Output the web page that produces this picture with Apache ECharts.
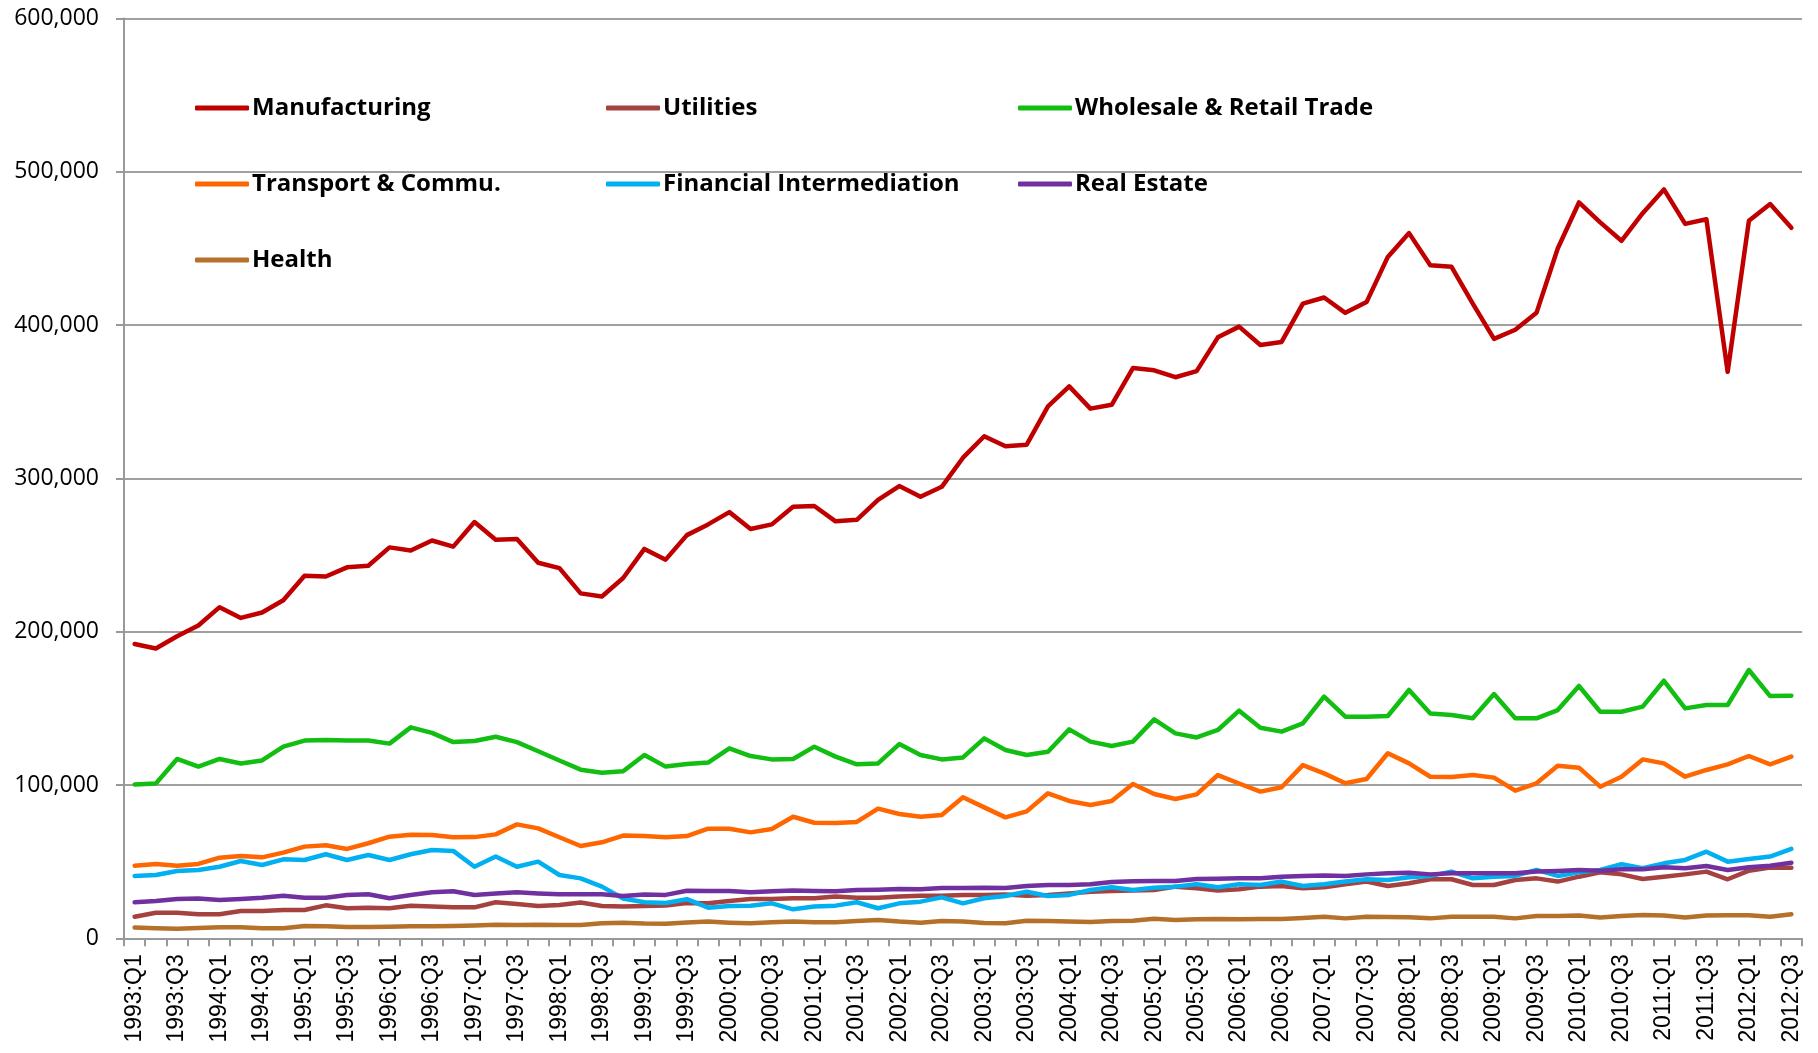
<!DOCTYPE html>
<html>
<head>
<meta charset="utf-8">
<script src="https://cdn.jsdelivr.net/npm/echarts@6/dist/echarts.min.js"></script>
<style>
html,body{margin:0;padding:0;background:#fff;}
#chart{width:1818px;height:1053px;}
</style>
</head>
<body>
<div id="chart"></div>
<script>
// Categories 1993:Q1 .. 2012:Q3
var categories = [];
for (var y = 1993; y <= 2012; y++) {
  for (var q = 1; q <= 4; q++) {
    if (y === 2012 && q > 3) break;
    categories.push(y + ':Q' + q);
  }
}

var seriesNames = ['Manufacturing', 'Utilities', 'Wholesale & Retail Trade',
  'Transport & Commu.', 'Financial Intermediation', 'Real Estate', 'Health'];

var manufacturing = [192000,189000,197000,204000,216000,209000,212500,220500,236500,236000,
  242000,243000,255000,253000,259500,255500,271500,260000,260500,245000,
  241500,225000,223000,235000,254000,247000,263000,270000,278000,267000,
  270000,281500,282000,272000,273000,286000,295000,288000,294500,313500,
  327500,321000,322000,347000,360000,345500,348000,372000,370500,366000,
  370000,392000,399000,387000,389000,414000,418000,408000,415000,444500,
  460000,439000,438000,414000,391000,397000,408000,450000,480000,467000,
  455000,473000,488500,466000,469000,369500,468000,479000,463500];

var utilities = [14100,16700,16700,15700,15700,17800,17800,18500,18500,21500,
  19600,20000,19600,21300,20700,20200,20200,23500,22400,21100,
  21700,23300,21100,20700,21100,21400,23000,22800,24300,25700,
  25700,26100,26100,27200,26500,26500,27200,27800,27800,28300,
  28300,28500,27800,28300,29300,30400,30900,31100,31500,33700,
  32600,31100,32000,33700,34100,32600,33300,35200,37000,34100,
  35900,38500,38500,34800,34800,38000,39100,37000,40200,43000,
  41700,38700,40200,41700,43500,38500,44100,46100,46100];

var wholesale = [100400,101000,117000,112000,117000,114000,116000,125000,129000,129300,
  129000,129000,127000,137600,134000,128000,128700,131500,128000,122000,
  116000,110000,108000,109000,119600,112000,113700,114600,123900,118900,
  116700,117000,125000,118500,113500,114100,126700,119600,116700,118000,
  130400,122800,119600,121700,136300,128300,125400,128300,142800,133700,
  131000,135900,148500,137400,134800,140200,157600,144600,144600,145000,
  162000,146700,145700,143500,159300,143500,143500,148900,164600,147800,
  147800,151100,168000,150000,152200,152200,175000,158000,158300];

var transport = [47400,48500,47400,48500,52600,53700,52800,55900,59800,60700,
  58300,62000,66300,67600,67400,65900,66000,67800,74300,71700,
  65900,60200,62600,67000,66700,65900,66700,71500,71500,69100,
  71300,79300,75400,75200,75900,84600,81100,79300,80400,92000,
  85400,78900,82800,94600,89600,87000,89600,100700,94100,90900,
  93900,106500,101000,95700,98500,113000,107600,101100,103900,120700,
  114100,105400,105200,106500,104800,96300,101100,112600,111300,98900,
  105400,116700,114100,105400,109800,113500,118900,113500,118500];

var financial = [40700,41300,43900,44600,46700,50400,47800,51500,51100,54800,
  51100,54300,51100,54800,57600,57000,46700,53300,46700,50000,
  41300,39100,33700,26000,23500,23000,25500,20000,21100,21300,
  22800,18900,20700,21300,23500,19600,22800,23900,26700,22800,
  26100,27600,30400,27600,28300,31500,33300,31500,33000,33700,
  35200,33300,35200,34800,37000,34100,35200,37000,38500,38000,
  39800,40700,43500,39100,40200,40700,44600,40700,43000,44600,
  48300,45700,48900,51100,56500,50000,51700,53300,58300];

var realEstate = [23500,24300,25700,25900,25000,25700,26500,27800,26500,26500,
  28300,28700,26100,28300,30000,30700,28300,29300,30000,29300,
  28700,28700,28700,27600,28500,28300,31000,30900,30900,30000,
  30700,31100,30900,30700,31500,31700,32200,32000,32800,32800,
  33000,32800,34100,34800,34800,35200,36700,37200,37400,37400,
  38700,38900,39100,39100,40200,40700,40900,40700,41700,42400,
  42800,41700,42400,42400,42400,42400,43500,43900,44600,44100,
  45000,45000,46300,45700,47200,44600,46300,47400,49300];

var health = [7000,6500,6300,6700,7200,7200,6500,6500,8000,7800,
  7400,7400,7600,7800,7800,8000,8300,8900,8700,8900,
  8700,8700,9800,10200,9600,9500,10300,10900,10200,9800,
  10400,10900,10400,10400,11300,12000,10900,10200,11300,10900,
  10000,9800,11500,11300,10900,10700,11300,11500,12800,12000,
  12400,12600,12400,12600,12600,13300,14100,13000,14100,13900,
  13700,13000,14100,14100,14100,13000,14600,14600,14800,13500,
  14600,15200,14800,13500,14800,15000,15000,14100,15700];

var seriesData = [manufacturing, utilities, wholesale, transport, financial, realEstate, health];
var seriesColors = ['#C00000', '#A5413F', '#12BE12', '#FF6600', '#00B0F0', '#7030A0', '#B5702A'];

// legend placement (3 columns x 3 rows)
var legendCols = [195, 606, 1018];
var legendRows = [108, 184, 260];

var chart = echarts.init(document.getElementById('chart'), null, {renderer: 'canvas'});

var legends = seriesNames.map(function (name, i) {
  return {
    data: [name],
    left: legendCols[i % 3],
    top: legendRows[Math.floor(i / 3)] - 15,
    padding: 0,
    icon: 'roundRect',
    itemWidth: 54,
    itemHeight: 5,
    itemGap: 0,
    selectedMode: false,
    textStyle: {
      fontFamily: 'Open Sans',
      fontWeight: 'bold',
      fontSize: 24,
      color: '#000',
      lineHeight: 30,
      padding: [0, 0, 0, -2]
    }
  };
});

var option = {
  backgroundColor: '#ffffff',
  animation: false,
  legend: legends,
  grid: {left: 124, right: 16, top: 18.5, bottom: 114.7, containLabel: false},
  xAxis: {
    type: 'category',
    data: categories,
    boundaryGap: true,
    axisLine: {show: true, lineStyle: {color: '#999999', width: 2}},
    axisTick: {show: true, interval: 0, length: 8, lineStyle: {color: '#999999', width: 2}},
    axisLabel: {
      interval: 1,
      rotate: 90,
      margin: 16,
      fontFamily: 'Liberation Sans',
      fontSize: 23,
      color: '#000'
    },
    splitLine: {show: false}
  },
  yAxis: {
    type: 'value',
    min: 0,
    max: 600000,
    interval: 100000,
    axisLine: {show: true, lineStyle: {color: '#999999', width: 2}},
    axisTick: {show: true, length: 8, lineStyle: {color: '#999999', width: 2}},
    axisLabel: {
      margin: 25,
      fontFamily: 'Open Sans',
      fontSize: 23,
      color: '#000',
      formatter: function (v) { return v.toLocaleString('en-US'); }
    },
    splitLine: {show: true, lineStyle: {color: '#A0A0A0', width: 2}}
  },
  series: seriesNames.map(function (name, i) {
    return {
      name: name,
      type: 'line',
      data: seriesData[i],
      color: seriesColors[i],
      showSymbol: false,
      symbol: 'none',
      smooth: false,
      lineStyle: {width: 4.5, color: seriesColors[i], cap: 'round', join: 'round'},
      itemStyle: {color: seriesColors[i]}
    };
  })
};

chart.setOption(option);
</script>
</body>
</html>
